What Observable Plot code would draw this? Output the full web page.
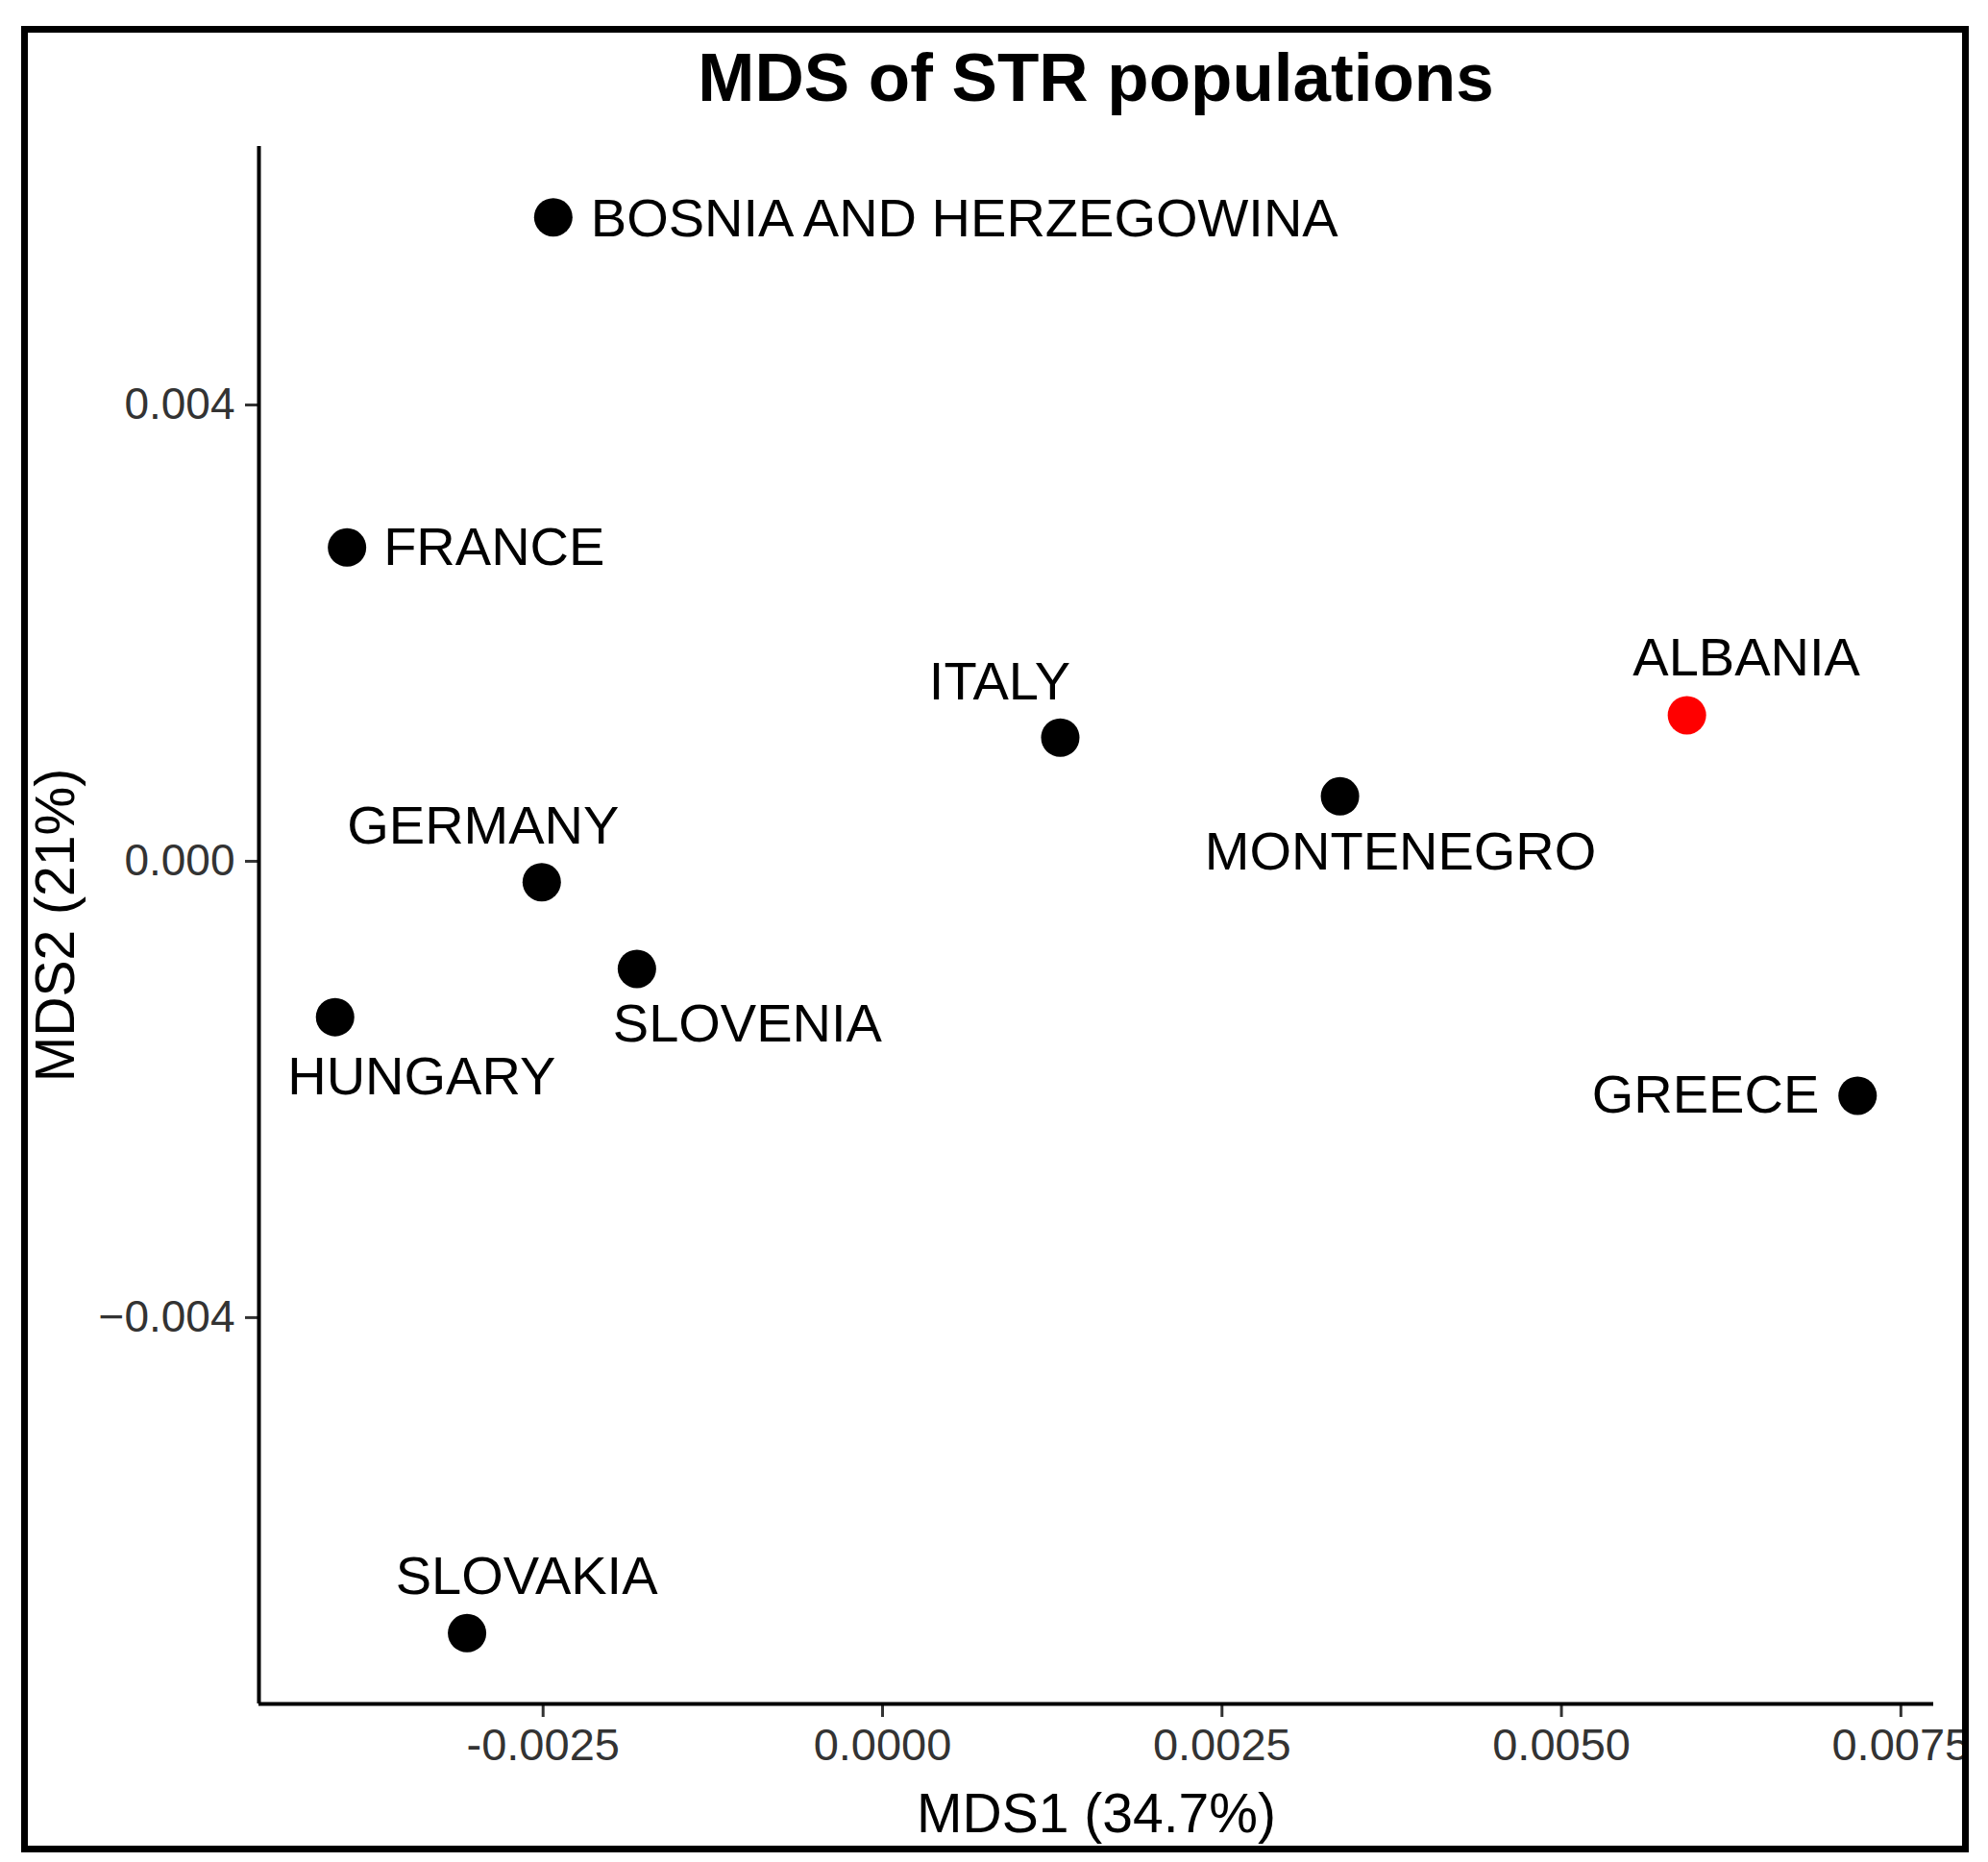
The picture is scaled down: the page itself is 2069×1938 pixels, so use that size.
<!DOCTYPE html>
<html>
<head>
<meta charset="utf-8">
<script src="https://cdn.jsdelivr.net/npm/d3@7"></script>
<script src="https://cdn.jsdelivr.net/npm/@observablehq/plot@0.6"></script>
<style>
  html, body { margin: 0; padding: 0; background: #fff; }
  #page { position: relative; width: 2069px; height: 1938px; overflow: hidden; font-family: "Liberation Sans", Arial, Helvetica, sans-serif; }
  #title { position: absolute; left: 269px; width: 1743px; top: 45px; text-align: center; font-weight: bold; font-size: 71px; line-height: 71px; color: #000; z-index: 2; }
  #chart { position: absolute; left: 0; top: 0; }
  #border { position: absolute; left: 22px; top: 27px; width: 2027px; height: 1901px; border: 7px solid #000; box-sizing: border-box; pointer-events: none; }
</style>
</head>
<body>
<div id="page">
  <div id="title">MDS of STR populations</div>
  <div id="chart"></div>
  <div id="border"></div>
</div>
<script>
// ---- data ----
const populations = ["BOSNIA AND HERZEGOWINA", "FRANCE", "ITALY", "ALBANIA", "MONTENEGRO", "GERMANY", "SLOVENIA", "HUNGARY", "GREECE", "SLOVAKIA"];
const mds1 = [-0.002425, -0.003944, 0.001309, 0.005924, 0.003369, -0.002510, -0.001809, -0.004032, 0.007181, -0.003060];
const mds2 = [0.005645, 0.002751, 0.001084, 0.001280, 0.000570, -0.000183, -0.000943, -0.001366, -0.002055, -0.006766];
const highlighted = ["ALBANIA"];
const xTicks = [-0.0025, 0, 0.0025, 0.005, 0.0075];
const yTicks = [-0.004, 0, 0.004];
const xTitle = "MDS1 (34.7%)";
const yTitle = "MDS2 (21%)";

// ---- label placement (relative offsets, like ggrepel) ----
const placement = {
  "BOSNIA AND HERZEGOWINA": {dx: 39, dy: 2, textAnchor: "start"},
  "FRANCE": {dx: 38, dy: 0, textAnchor: "start"},
  "ITALY": {dx: -63, dy: -58, textAnchor: "middle"},
  "ALBANIA": {dx: 62, dy: -59, textAnchor: "middle"},
  "MONTENEGRO": {dx: 63, dy: 58, textAnchor: "middle"},
  "GERMANY": {dx: -61, dy: -58, textAnchor: "middle"},
  "SLOVENIA": {dx: 115, dy: 58, textAnchor: "middle"},
  "HUNGARY": {dx: 90, dy: 62, textAnchor: "middle"},
  "GREECE": {dx: -40, dy: 0, textAnchor: "end"},
  "SLOVAKIA": {dx: 62, dy: -59, textAnchor: "middle"}
};

const idx = populations.map((_, i) => i);
const expand = (vals) => {
  const [lo, hi] = d3.extent(vals);
  const pad = (hi - lo) * 0.05;
  return [lo - pad, hi + pad];
};
const xDomain = expand(mds1);
const yDomain = expand(mds2);

const fmtX = d => d3.format(".4f")(d).replace("\u2212", "-");
const fmtY = d => d3.format(".3f")(d);

const labelMarks = idx.map(i => Plot.text([i], {
  x: j => mds1[j],
  y: j => mds2[j],
  text: j => populations[j],
  fontSize: 56,
  fill: "#000",
  ...placement[populations[i]]
}));

const chart = Plot.plot({
  width: 2069,
  height: 1938,
  marginLeft: 269,
  marginRight: 57,
  marginTop: 152,
  marginBottom: 165,
  style: {fontFamily: "'Liberation Sans', Arial, Helvetica, sans-serif", background: "transparent", overflow: "visible"},
  x: {domain: xDomain},
  y: {domain: yDomain},
  marks: [
    Plot.axisX(xTicks, {tickSize: 14, tickPadding: 11, fontSize: 47, tickFormat: fmtX, label: null, stroke: "#333", strokeWidth: 3, fill: "#333"}),
    Plot.axisY(yTicks, {tickSize: 14, tickPadding: 11, fontSize: 46, tickFormat: fmtY, label: null, stroke: "#333", strokeWidth: 3, fill: "#333"}),
    Plot.ruleY([yDomain[0]], {stroke: "#000", strokeWidth: 4}),
    Plot.ruleX([xDomain[0]], {stroke: "#000", strokeWidth: 4}),
    Plot.dot(idx, {
      x: i => mds1[i],
      y: i => mds2[i],
      r: 20,
      fill: i => highlighted.includes(populations[i]) ? "#ff0000" : "#000000",
      stroke: "none"
    }),
    ...labelMarks,
    Plot.text([xTitle], {text: d => d, frameAnchor: "bottom", textAnchor: "middle", lineAnchor: "bottom", dy: 133, fontSize: 57, fill: "#000"}),
    Plot.text([yTitle], {text: d => d, frameAnchor: "left", textAnchor: "middle", lineAnchor: "top", rotate: -90, dx: -233, fontSize: 57, fill: "#000"})
  ]
});
document.getElementById("chart").appendChild(chart);
</script>
</body>
</html>
